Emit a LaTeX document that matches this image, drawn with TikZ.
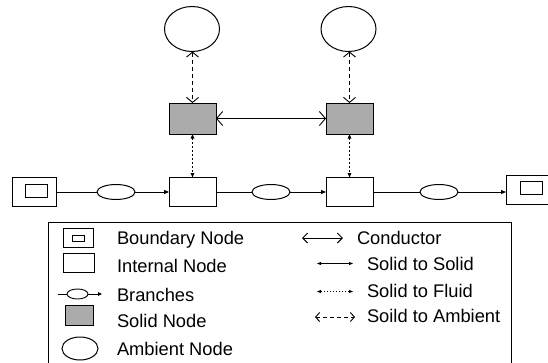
\documentclass[tikz,border=0pt]{standalone}
\usepackage{fontspec}
\setmainfont{Liberation Sans}
\usetikzlibrary{shapes.geometric,arrows.meta}
\begin{document}
\begin{tikzpicture}[x=1pt,y=-1pt,
  every node/.style={inner sep=0pt,outer sep=0pt},
  ambient/.style={draw,ellipse,line width=1pt,minimum width=55pt,minimum height=45pt},
  solidnode/.style={draw,rectangle,line width=1pt,fill=black!33,minimum width=47pt,minimum height=31pt},
  internal/.style={draw,rectangle,line width=1pt,minimum width=47pt,minimum height=29pt},
  boundary/.style={draw,rectangle,line width=1pt,minimum width=44pt,minimum height=29pt},
  boundaryin/.style={draw,rectangle,line width=1pt,minimum width=22pt,minimum height=13pt},
  branch/.style={draw,ellipse,line width=1pt,minimum width=38pt,minimum height=15pt},
  lbl/.style={anchor=base west,font=\fontsize{18.3}{20}\selectfont},
  conn/.style={line width=0.9pt},
  flow/.style={line width=0.9pt,-{Triangle[length=5pt,width=4pt]}},
  conductor/.style={line width=0.9pt,{Straight Barb[length=6pt,width=14pt]}-{Straight Barb[length=6pt,width=14pt]}},
  toambient/.style={line width=0.9pt,dash pattern=on 4pt off 3pt,{Straight Barb[length=5pt,width=12pt]}-{Straight Barb[length=5pt,width=12pt]}},
  tofluid/.style={line width=1.1pt,dash pattern=on 2pt off 2pt,{Triangle[length=4.5pt,width=3.5pt]}-{Triangle[length=4.5pt,width=3.5pt]}},
  legendline/.style={line width=0.9pt}
]
\useasboundingbox (0,0) rectangle (548,362);
% ambient nodes
\node[ambient] (a1) at (192,29) {};
\node[ambient] (a2) at (348.5,29) {};
% solid nodes
\node[solidnode] (s1) at (192.5,118.5) {};
\node[solidnode] (s2) at (349.5,118.5) {};
% internal nodes
\node[internal] (i1) at (192.5,192) {};
\node[internal] (i2) at (349.5,192) {};
% boundary nodes
\node[boundary] (bl) at (34,192) {};
\node[boundaryin] (bli) at (36,191) {};
\node[boundary] (br) at (528,190) {};
\node[boundaryin] (bri) at (531.5,188) {};
% branches
\node[branch] (e1) at (116,192) {};
\node[branch] (e2) at (271,192) {};
\node[branch] (e3) at (439,192) {};
% connectors
\draw[toambient] (a1.south -| s1) -- (s1);
\draw[toambient] (a2.south -| s2) -- (s2);
\draw[conductor] (s1) -- (s2);
\draw[tofluid] (s1) -- (i1);
\draw[tofluid] (s2) -- (i2);
\draw[conn] (bl) -- (e1);
\draw[flow] (e1) -- (i1);
\draw[conn] (i1) -- (e2);
\draw[flow] (e2) -- (i2);
\draw[conn] (i2) -- (e3);
\draw[flow] (e3) -- (br.west |- e3);
% legend
\draw[line width=1pt] (48,222) rectangle (511,380);
\node[draw,rectangle,line width=1pt,minimum width=30pt,minimum height=19pt] (lb) at (78,237.5) {};
\node[draw,rectangle,line width=1pt,minimum width=12pt,minimum height=6pt] (lbi) at (78,238) {};
\node[draw,rectangle,line width=1pt,minimum width=31pt,minimum height=19pt] (li) at (78.5,262.5) {};
\coordinate (lbr1) at (58,294);
\node[draw,ellipse,line width=0.9pt,minimum width=21pt,minimum height=10pt] (le) at (77.5,294) {};
\coordinate (lbr2) at (102,294);
\draw[legendline] (lbr1) -- (le);
\draw[legendline,-{Triangle[length=4pt,width=3.5pt]}] (le) -- (lbr2);
\node[draw,rectangle,line width=1pt,fill=black!33,minimum width=28pt,minimum height=20pt] (ls) at (79,315) {};
\node[draw,ellipse,line width=1pt,minimum width=36pt,minimum height=23pt] (la) at (80,348.5) {};
\node[lbl] (t1) at (117,244.3) {Boundary Node};
\node[lbl] (t2) at (117,272.3) {Internal Node};
\node[lbl] (t3) at (117,301) {Branches};
\node[lbl] (t4) at (117,327.7) {Solid Node};
\node[lbl] (t5) at (117,355.7) {Ambient Node};
% right column
\coordinate (c1a) at (302,238); \coordinate (c1b) at (343,238);
\coordinate (c2a) at (317,263.5); \coordinate (c2b) at (353,263.5);
\coordinate (c3a) at (317,291.5); \coordinate (c3b) at (353,291.5);
\coordinate (c4a) at (315,317); \coordinate (c4b) at (355,317);
\draw[legendline,{Straight Barb[length=5pt,width=10pt]}-{Straight Barb[length=5pt,width=10pt]}] (c1a) -- (c1b);
\draw[legendline,{Triangle[length=4pt,width=3pt]}-{Triangle[length=4pt,width=3pt]}] (c2a) -- (c2b);
\draw[legendline,dash pattern=on 1.5pt off 1.5pt,{Triangle[length=4pt,width=3pt]}-{Triangle[length=4pt,width=3pt]}] (c3a) -- (c3b);
\draw[legendline,dash pattern=on 4pt off 3pt,{Straight Barb[length=4pt,width=9pt]}-{Straight Barb[length=4pt,width=9pt]}] (c4a) -- (c4b);
\node[lbl] (r1) at (357,244.3) {Conductor};
\node[lbl] (r2) at (367,270) {Solid to Solid};
\node[lbl] (r3) at (367,297.3) {Solid to Fluid};
\node[lbl] (r4) at (367,322.7) {Soild to Ambient};
\end{tikzpicture}
\end{document}
